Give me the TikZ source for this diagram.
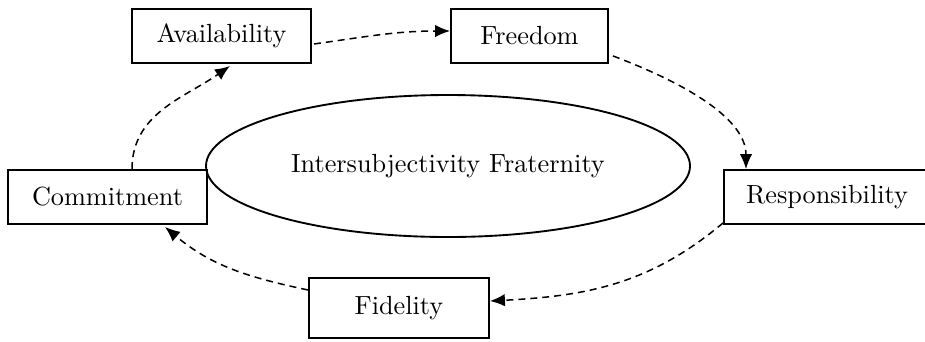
\documentclass[tikz,border=0pt]{standalone}
\usetikzlibrary{shapes.geometric,arrows.meta}
\begin{document}
\begin{tikzpicture}[x=0.4pt,y=0.4pt,
  box/.style={draw,line width=0.75pt,minimum height=21.6pt,inner sep=0pt,font=\fontsize{10.5}{12}\selectfont},
  conn/.style={line width=0.6pt,dash pattern=on 2.8pt off 2pt,-{Latex[length=6pt,width=5pt]}},
  oval/.style={draw,ellipse,line width=0.75pt,minimum width=193.6pt,minimum height=56.8pt,inner sep=0pt,font=\fontsize{10.5}{12}\selectfont}]
\useasboundingbox (0,0) rectangle (925,-341);
\node[box,minimum width=71.6pt] (av) at (221.5,-36) {Availability};
\node[box,minimum width=62.8pt] (fr) at (529.5,-36) {Freedom};
\node[box,minimum width=79.6pt] (co) at (107.5,-197) {Commitment};
\node[box,minimum width=82.4pt] (re) at (827,-197) {Responsibility};
\node[box,minimum width=72pt,minimum height=24pt] (fi) at (399,-308) {Fidelity};
\node[oval] (in) at (448,-166) {Intersubjectivity Fraternity};
\draw[conn] ([xshift=0.8pt,yshift=-3.2pt]av.east) to[out=8,in=180] ([yshift=2pt]fr.west);
\draw[conn] ([xshift=1.6pt,yshift=3.2pt]fr.south east) .. controls (690,-85) and (746,-120) .. ([xshift=-32.4pt]re.north);
\draw[conn] ([yshift=0.8pt]re.south west) to[out=-140,in=3] ([yshift=2.8pt]fi.east);
\draw[conn] ([yshift=7.2pt]fi.west) to[out=168,in=-40] ([xshift=23pt,yshift=-0.8pt]co.south);
\draw[conn] ([xshift=9.8pt]co.north) to[out=90,in=-145] ([xshift=3.4pt,yshift=-0.8pt]av.south);
\end{tikzpicture}
\end{document}
